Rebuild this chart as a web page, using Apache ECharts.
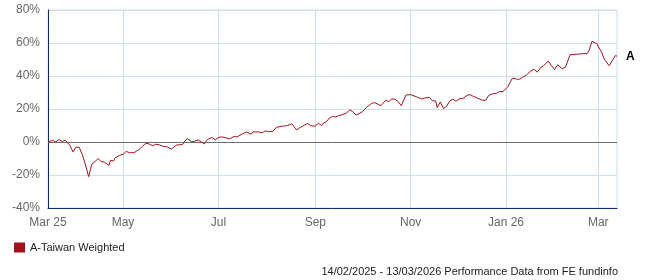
<!DOCTYPE html>
<html>
<head>
<meta charset="utf-8">
<script src="https://cdn.jsdelivr.net/npm/echarts@6/dist/echarts.min.js"></script>
<style>
html,body{margin:0;padding:0;background:#fff;}
#c{width:647px;height:280px;}
</style>
</head>
<body>
<div id="c"></div>
<script>
var seriesName = 'A-Taiwan Weighted';
var dates = [
'2025-03-14','2025-03-17','2025-03-19','2025-03-21','2025-03-23','2025-03-25','2025-03-26','2025-03-28','2025-03-30','2025-04-01',
'2025-04-03','2025-04-05','2025-04-07','2025-04-09','2025-04-11','2025-04-13','2025-04-15','2025-04-17','2025-04-19','2025-04-22',
'2025-04-23','2025-04-25','2025-04-26','2025-04-29','2025-05-01','2025-05-03','2025-05-05','2025-05-08','2025-05-11','2025-05-13',
'2025-05-15','2025-05-17','2025-05-20','2025-05-22','2025-05-24','2025-05-27','2025-05-29','2025-06-01','2025-06-04','2025-06-08',
'2025-06-11','2025-06-14','2025-06-16','2025-06-18','2025-06-20','2025-06-22','2025-06-24','2025-06-27','2025-06-29','2025-07-01',
'2025-07-03','2025-07-06','2025-07-08','2025-07-11','2025-07-13','2025-07-16','2025-07-19','2025-07-22','2025-07-23','2025-07-27',
'2025-07-29','2025-07-31','2025-08-02','2025-08-05','2025-08-07','2025-08-11','2025-08-14','2025-08-17','2025-08-18','2025-08-20',
'2025-08-22','2025-08-23','2025-08-25','2025-08-27','2025-08-29','2025-09-01','2025-09-03','2025-09-05','2025-09-06','2025-09-08',
'2025-09-10','2025-09-12','2025-09-14','2025-09-16','2025-09-18','2025-09-19','2025-09-21','2025-09-23','2025-09-25','2025-09-27',
'2025-09-29','2025-10-01','2025-10-04','2025-10-07','2025-10-09','2025-10-11','2025-10-13','2025-10-16','2025-10-18','2025-10-20',
'2025-10-22','2025-10-24','2025-10-26','2025-10-29','2025-11-01','2025-11-02','2025-11-05','2025-11-08','2025-11-10','2025-11-13',
'2025-11-15','2025-11-17','2025-11-18','2025-11-20','2025-11-22','2025-11-24','2025-11-26','2025-11-28','2025-11-30','2025-12-02',
'2025-12-05','2025-12-07','2025-12-09','2025-12-11','2025-12-12','2025-12-14','2025-12-17','2025-12-19','2025-12-21','2025-12-23',
'2025-12-26','2025-12-28','2025-12-30','2026-01-02','2026-01-05','2026-01-07','2026-01-09','2026-01-12','2026-01-14','2026-01-15',
'2026-01-17','2026-01-19','2026-01-21','2026-01-23','2026-01-25','2026-01-28','2026-01-30','2026-02-01','2026-02-03','2026-02-04',
'2026-02-06','2026-02-08','2026-02-11','2026-02-15','2026-02-22','2026-02-23','2026-02-25','2026-02-26','2026-02-28','2026-03-03',
'2026-03-05','2026-03-08','2026-03-10','2026-03-12','2026-03-13'
];
var values = [
0,1.0,0,1.5,0.3,1.1,0.7,-2,-6,-3,
-3.3,-7.8,-13.9,-21,-13.5,-12,-10,-11.8,-12.2,-14.2,
-11.2,-11.5,-9.5,-8,-7.5,-5.7,-6.5,-6.5,-4.7,-3.1,
-1.1,-0.9,-2.3,-1.3,-1.7,-2.7,-2.9,-4.3,-1.9,-1.5,
2.1,0.1,0.5,1.3,0.1,-1.1,1.5,2.7,1.3,2.7,
3.1,2.5,1.9,3.3,3.1,4.7,6.1,4.7,6.1,6.1,
5.5,6.7,6.3,6.5,8.9,9.6,9.9,11,9.8,7.3,
8.6,7.9,10.2,11.2,9.9,9.6,11.4,9.9,11.4,12.2,
14.5,15.5,15.1,16.1,16.4,17.2,17.6,19.4,18.4,16.4,
17.2,18.2,21.2,23.4,23.8,23.0,22,25.3,24.5,26.1,
25.9,24.5,22,28.5,28.7,28.5,27.3,26.1,26.7,27.1,
24.9,24.9,20.8,24.3,20.2,21.6,24.9,25.9,24.7,26.1,
26.7,28.3,28.7,27.7,28.1,26.5,25.3,25.3,28.3,29.1,
29.5,30.7,30.5,33.2,38.6,38.4,37.8,39.5,40.5,40.3,
43.1,44.1,42.3,45,46.2,49,46.4,43.9,46.8,46.6,
44.4,45.3,52.9,53.2,53.7,55.1,61,60.8,59.6,54.7,
50.0,46.2,49.4,52.4,52
];
var xStart = '2025-03-14';
var xEnd = '2026-03-13';
var monthTickDates = ['2025-03-14','2025-05-01','2025-07-01','2025-09-01','2025-11-01','2026-01-01','2026-03-01'];
var monthTickLabels = ['Mar 25','May','Jul','Sep','Nov','Jan 26','Mar'];
var yMin = -40, yMax = 80, yStep = 20;
var endLabelText = 'A';
var footerText = '14/02/2025 - 13/03/2026 Performance Data from FE fundinfo';

function ts(s){ var p = s.split('-'); return new Date(+p[0], +p[1]-1, +p[2]).getTime(); }

var FONT = 'Liberation Sans, Arial, sans-serif';
var GRID = '#d0dde8';
var NAVY = '#0a2677';
var RED = '#a3121c';

var lineData = dates.map(function(d, i){ return [ts(d), values[i]]; });

var markData = monthTickDates.map(function(d, i){
  return {
    xAxis: ts(d),
    lineStyle: {color: i === 0 ? 'rgba(0,0,0,0)' : GRID, width: 1, type: 'solid'},
    label: {show: true, position: 'start', formatter: monthTickLabels[i], distance: 9,
            color: '#666', fontSize: 12, fontFamily: FONT}
  };
});
markData.push({
  yAxis: 0,
  lineStyle: {color: '#6e6e6e', width: 1, type: 'solid'},
  label: {show: false}
});

var chart = echarts.init(document.getElementById('c'), null, {renderer: 'canvas'});
chart.setOption({
  animation: false,
  grid: {left: 48, right: 30, top: 10, bottom: 72, show: true, borderColor: GRID, borderWidth: 1},
  legend: {
    data: [{name: seriesName, icon: 'rect'}],
    left: 9, top: 237, itemWidth: 11, itemHeight: 10, selectedMode: false,
    textStyle: {fontSize: 11, color: '#222', fontFamily: FONT}
  },
  graphic: [{
    type: 'text', right: 29, top: 266,
    style: {text: footerText, font: '11px Liberation Sans, Arial, sans-serif', fill: '#222'}
  }],
  xAxis: {
    type: 'time', min: ts(xStart), max: ts(xEnd),
    axisLine: {show: true, onZero: false, lineStyle: {color: NAVY, width: 1}},
    axisTick: {show: false}, axisLabel: {show: false}, splitLine: {show: false}
  },
  yAxis: {
    type: 'value', min: yMin, max: yMax, interval: yStep,
    axisLine: {show: true, onZero: false, lineStyle: {color: NAVY, width: 1}},
    axisTick: {show: false},
    axisLabel: {formatter: '{value}%', color: '#666', fontSize: 12, fontFamily: FONT, margin: 8},
    splitLine: {show: true, lineStyle: {color: GRID, width: 1}}
  },
  series: [
    {
      type: 'line', name: 'grid', data: [], z: 1, silent: true,
      markLine: {silent: true, symbol: ['none', 'none'], animation: false, data: markData}
    },
    {
      type: 'line', name: seriesName, data: lineData, z: 5, showSymbol: false, symbol: 'none',
      color: RED, lineStyle: {color: RED, width: 1},
      endLabel: {show: true, formatter: endLabelText, color: '#000', fontWeight: 'bold',
                 fontSize: 12, fontFamily: FONT, distance: 9}
    }
  ]
});
</script>
</body>
</html>
